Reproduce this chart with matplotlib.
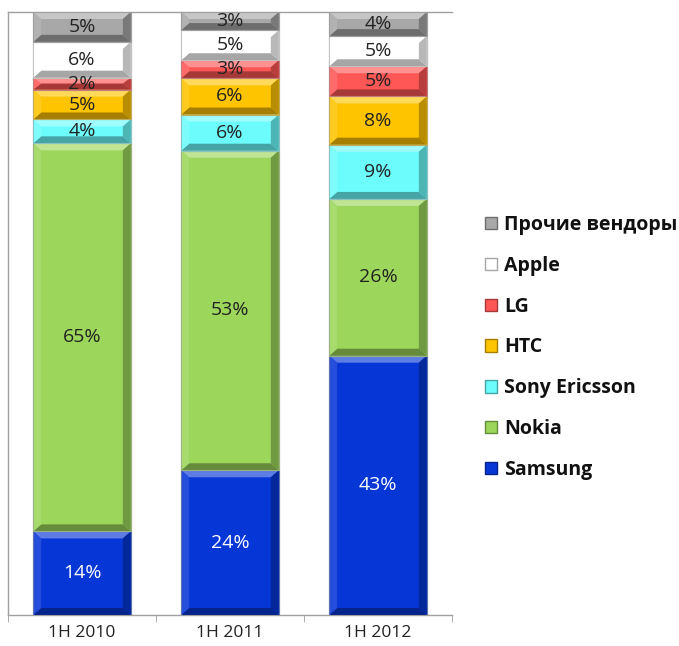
import matplotlib
matplotlib.use("Agg")
import matplotlib.pyplot as plt
from matplotlib.patches import Rectangle, Polygon, Patch
from matplotlib.colors import to_rgb
import numpy as np

plt.rcParams['font.family'] = ['Open Sans', 'DejaVu Sans']

categories = ["1H 2010", "1H 2011", "1H 2012"]
vendors = ["Samsung", "Nokia", "Sony Ericsson", "HTC", "LG", "Apple", "Прочие вендоры"]
samsung = [14, 24, 43]
nokia = [65, 53, 26]
sony_ericsson = [4, 6, 9]
htc = [5, 6, 8]
lg = [2, 3, 5]
apple = [6, 5, 5]
others = [5, 3, 4]
series = [samsung, nokia, sony_ericsson, htc, lg, apple, others]
colors = ["#0636D6", "#9CD65A", "#6CFCFC", "#FFC400", "#FF5656", "#FFFFFF", "#A8A8A8"]
label_colors = ["white", "#222222", "#222222", "#222222", "#222222", "#222222", "#222222"]

W, H = 679, 646
fig = plt.figure(figsize=(W / 100, H / 100), dpi=100)
ax = fig.add_axes([8 / W, 1 - 615 / H, (452 - 8) / W, (615 - 12) / H])

data = np.array(series, dtype=float)
totals = data.sum(axis=0)
pct = data / totals * 100

x = np.arange(len(categories))
width = 0.66
ax.set_xlim(-0.5, len(categories) - 0.5)
ax.set_ylim(0, 100)

px_x = (len(categories)) / (452 - 8)
px_y = 100 / (615 - 12)


def mix(c, other, t):
    c = np.array(to_rgb(c)); o = np.array(to_rgb(other))
    return tuple(c * (1 - t) + o * t)


bottoms = np.zeros(len(categories))
for i, (vals, col) in enumerate(zip(pct, colors)):
    bars = ax.bar(x, vals, width, bottom=bottoms, color=col,
                  edgecolor="#B0B0B0", linewidth=0.8, zorder=2)
    for j, (xc, v, b) in enumerate(zip(x, vals, bottoms)):
        l, r = xc - width / 2, xc + width / 2
        t = b + v
        bx = 8 * px_x
        by = min(7 * px_y, v / 2)
        top = Polygon([(l, t), (r, t), (r - bx, t - by), (l + bx, t - by)],
                      closed=True, facecolor=mix(col, "white", 0.35), edgecolor="none", zorder=3)
        bot = Polygon([(l, b), (r, b), (r - bx, b + by), (l + bx, b + by)],
                      closed=True, facecolor=mix(col, "black", 0.35), edgecolor="none", zorder=3)
        left = Polygon([(l, b), (l + bx, b + by), (l + bx, t - by), (l, t)],
                       closed=True, facecolor=mix(col, "white", 0.12), edgecolor="none", zorder=3)
        right = Polygon([(r, b), (r - bx, b + by), (r - bx, t - by), (r, t)],
                        closed=True, facecolor=mix(col, "black", 0.28), edgecolor="none", zorder=3)
        for p in (top, bot, left, right):
            ax.add_patch(p)
        ax.add_patch(Rectangle((l, b), width, v, facecolor="none",
                               edgecolor=mix(col, "#999999", 0.6), linewidth=0.8, zorder=4))
        ax.text(xc, b + v / 2, f"{int(series[i][j])}%", ha="center", va="center",
                fontsize=14, color=label_colors[i], zorder=5)
    bottoms += vals

# axes styling
ax.spines["right"].set_visible(False)
for s in ["left", "bottom", "top"]:
    ax.spines[s].set_color("#A0A0A0")
    ax.spines[s].set_linewidth(1.0)
ax.set_yticks([])
ax.set_xticks(x)
ax.set_xticklabels(categories, fontsize=12.5, color="#222222")
ax.set_xticks(np.arange(-0.5, len(categories)), minor=True)
ax.tick_params(axis="x", which="major", length=0, pad=7)
ax.tick_params(axis="x", which="minor", length=5, color="#A0A0A0")

handles = [Patch(facecolor=c, edgecolor=mix(c, "black", 0.35), linewidth=1.0) for c in colors]
leg = fig.legend(handles[::-1], vendors[::-1], loc="upper left",
                 bbox_to_anchor=(485 / W, 1 - 215 / H), frameon=False,
                 handlelength=0.6, handleheight=0.6, handletextpad=0.4,
                 labelspacing=1.07, borderpad=0, borderaxespad=0,
                 prop={"size": 14, "weight": "bold"})
for t in leg.get_texts():
    t.set_color("#111111")

fig.savefig("out.png", dpi=100)
